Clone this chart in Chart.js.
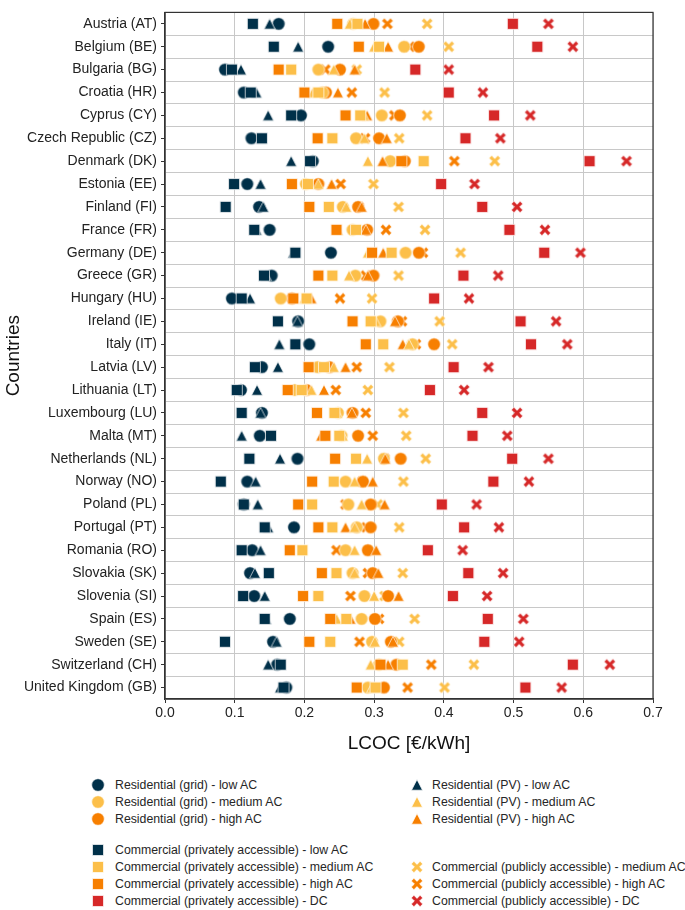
<!DOCTYPE html>
<html>
<head>
<meta charset="utf-8">
<script src="https://cdn.jsdelivr.net/npm/chart.js@4.4.1/dist/chart.umd.min.js"></script>
<style>
  body { margin: 0; background: #fff; font-family: "Liberation Sans", Arial, sans-serif; }
  #wrap { position: relative; width: 685px; height: 910px; overflow: hidden; }
  #chart { position: absolute; left: 0; top: 0; }
  .mk { position: absolute; width: 18px; height: 18px; }
  .lbl { position: absolute; font-size: 12.3px; line-height: 14px; color: #262626; white-space: nowrap; }
</style>
</head>
<body>
<div id="wrap">
  <canvas id="chart" width="685" height="770" style="width:685px;height:770px"></canvas>
</div>
<script>
const countries = [
  "Austria (AT)", "Belgium (BE)", "Bulgaria (BG)", "Croatia (HR)", "Cyprus (CY)",
  "Czech Republic (CZ)", "Denmark (DK)", "Estonia (EE)", "Finland (FI)", "France (FR)",
  "Germany (DE)", "Greece (GR)", "Hungary (HU)", "Ireland (IE)", "Italy (IT)",
  "Latvia (LV)", "Lithuania (LT)", "Luxembourg (LU)", "Malta (MT)", "Netherlands (NL)",
  "Norway (NO)", "Poland (PL)", "Portugal (PT)", "Romania (RO)", "Slovakia (SK)",
  "Slovenia (SI)", "Spain (ES)", "Sweden (SE)", "Switzerland (CH)", "United Kingdom (GB)"
];

// LCOC in €/kWh, one value per country (same order as above)
const resGridLow  = [.163,.234,.086,.113,.195,.124,.212,.118,.135,.150,.238,.153,.096,.191,.207,.139,.109,.139,.136,.190,.118,.113,.185,.125,.122,.128,.179,.155,.161,.174];
const resGridMed  = [.270,.343,.220,.226,.311,.274,.323,.202,.255,.269,.345,.273,.166,.309,.355,.219,.186,.248,.253,.314,.259,.263,.275,.259,.269,.286,.282,.297,.307,.291];
const resGridHigh = [.299,.364,.251,.231,.337,.307,.344,.220,.277,.290,.364,.299,.182,.334,.386,.236,.203,.269,.277,.338,.284,.295,.295,.291,.298,.320,.301,.324,.332,.314];
const resPVLow    = [.150,.191,.109,.131,.148,.138,.181,.137,.141,.131,.184,.145,.122,.190,.164,.162,.132,.137,.110,.165,.130,.133,.148,.137,.129,.143,.145,.160,.148,.165];
const resPVMed    = [.265,.300,.242,.212,.285,.286,.291,.220,.260,.248,.291,.264,.200,.302,.350,.242,.210,.247,.255,.290,.272,.282,.272,.272,.272,.300,.246,.301,.295,.297];
const resPVHigh   = [.287,.320,.272,.248,.290,.318,.312,.239,.282,.288,.313,.291,.210,.330,.341,.259,.228,.268,.224,.316,.298,.315,.259,.303,.306,.335,.266,.327,.320,.300];
const comPrivLow  = [.126,.156,.096,.123,.181,.139,.208,.099,.087,.128,.187,.142,.110,.162,.187,.129,.103,.110,.152,.121,.080,.113,.143,.110,.149,.112,.143,.086,.166,.170];
const comPrivMed  = [.276,.307,.181,.220,.280,.240,.371,.205,.235,.274,.325,.240,.203,.295,.313,.228,.196,.243,.250,.274,.242,.211,.240,.197,.246,.220,.260,.237,.341,.302];
const comPrivHigh = [.247,.278,.163,.200,.259,.219,.339,.182,.207,.246,.297,.220,.184,.269,.288,.206,.176,.218,.230,.244,.211,.191,.220,.179,.225,.198,.237,.207,.309,.275];
const comPrivDC   = [.499,.534,.359,.407,.472,.431,.609,.396,.455,.494,.544,.428,.386,.510,.525,.414,.380,.455,.441,.498,.471,.397,.429,.377,.435,.413,.463,.458,.585,.517];
const comPubMed   = [.376,.407,.275,.315,.376,.336,.473,.299,.335,.373,.424,.335,.297,.394,.412,.322,.291,.342,.346,.374,.342,.305,.336,.291,.341,.315,.358,.336,.443,.401];
const comPubHigh  = [.319,.351,.230,.268,.329,.287,.415,.252,.278,.317,.370,.288,.251,.340,.360,.275,.245,.288,.298,.315,.283,.259,.289,.246,.291,.266,.307,.279,.382,.348];
const comPubDC    = [.550,.585,.407,.456,.524,.481,.662,.444,.505,.545,.596,.478,.436,.561,.577,.464,.429,.505,.491,.550,.522,.447,.479,.427,.485,.462,.514,.508,.638,.569];

const NAVY = "#003049", YELLOW = "#fcbf49", ORANGE = "#f77f00", RED = "#d62828";

// draw order: squares, triangles, circles, crosses
const series = [
  ["Commercial (privately accessible) - low AC", comPrivLow, "square", NAVY],
  ["Commercial (privately accessible) - medium AC", comPrivMed, "square", YELLOW],
  ["Commercial (privately accessible) - high AC", comPrivHigh, "square", ORANGE],
  ["Commercial (privately accessible) - DC", comPrivDC, "square", RED],
  ["Residential (PV) - low AC", resPVLow, "triangle", NAVY],
  ["Residential (PV) - medium AC", resPVMed, "triangle", YELLOW],
  ["Residential (PV) - high AC", resPVHigh, "triangle", ORANGE],
  ["Residential (grid) - low AC", resGridLow, "circle", NAVY],
  ["Residential (grid) - medium AC", resGridMed, "circle", YELLOW],
  ["Residential (grid) - high AC", resGridHigh, "circle", ORANGE],
  ["Commercial (publicly accessible) - medium AC", comPubMed, "cross", YELLOW],
  ["Commercial (publicly accessible) - high AC", comPubHigh, "cross", ORANGE],
  ["Commercial (publicly accessible) - DC", comPubDC, "cross", RED]
];

function marker(shape, color) {
  const c = document.createElement("canvas");
  c.width = 18; c.height = 18;
  const g = c.getContext("2d");
  g.fillStyle = color;
  g.strokeStyle = "rgba(255,255,255,0.85)";
  g.lineWidth = 0.8;
  g.beginPath();
  if (shape === "circle") {
    g.arc(9, 9, 6.3, 0, Math.PI * 2);
  } else if (shape === "square") {
    g.rect(3.5, 3.5, 11, 11);
  } else if (shape === "triangle") {
    g.moveTo(9, 3.6); g.lineTo(14.5, 14.2); g.lineTo(3.5, 14.2); g.closePath();
  } else {
    const a = 6.2, w = 1.85, r = Math.SQRT1_2;
    const pts = [[-w,-a],[w,-a],[w,-w],[a,-w],[a,w],[w,w],[w,a],[-w,a],[-w,w],[-a,w],[-a,-w],[-w,-w]];
    pts.forEach(([px, py], i) => {
      const x = 9 + (px - py) * r, y = 9 + (px + py) * r;
      i ? g.lineTo(x, y) : g.moveTo(x, y);
    });
    g.closePath();
  }
  g.fill();
  g.stroke();
  return c;
}

const datasets = series.map(([label, values, shape, color]) => ({
  label,
  data: values.map((v, i) => ({ x: v, y: countries[i] })),
  pointStyle: marker(shape, color),
  pointRadius: 6,
  backgroundColor: color,
  borderColor: color
}));

const frame = {
  id: "frame",
  afterDatasetsDraw(chart) {
    const { ctx, chartArea: a } = chart;
    ctx.save();
    ctx.strokeStyle = "#333";
    ctx.lineWidth = 1.2;
    ctx.strokeRect(a.left, a.top, a.right - a.left, a.bottom - a.top);
    ctx.restore();
  }
};

const GRID = "#c8c8c8";

new Chart(document.getElementById("chart"), {
  type: "scatter",
  data: { datasets },
  options: {
    responsive: false,
    animation: false,
    events: [],
    layout: { padding: { left: 0, right: 32, top: 1, bottom: 0 } },
    plugins: { legend: { display: false }, tooltip: { enabled: false } },
    scales: {
      x: {
        type: "linear", min: 0, max: 0.7,
        ticks: { stepSize: 0.1, callback: (v) => v.toFixed(1), font: { family: "Liberation Sans", size: 14 }, color: "#222", padding: 2 },
        grid: { color: GRID, tickLength: 4, tickColor: "#333" },
        border: { color: "#333", width: 1.2 },
        title: { display: true, text: "LCOC [€/kWh]", font: { family: "Liberation Sans", size: 19 }, color: "#111", padding: { top: 0, bottom: 15 } },
        afterFit: (s) => { s.height = 71; }
      },
      y: {
        type: "category", labels: countries, offset: true,
        ticks: { font: { family: "Liberation Sans", size: 14 }, color: "#222", padding: 4, autoSkip: false },
        grid: { offset: false, drawOnChartArea: false, tickLength: 4, tickColor: "#333" },
        border: { color: "#333", width: 1.2 },
        title: { display: true, text: "Countries", font: { family: "Liberation Sans", size: 19 }, color: "#111", padding: { top: 2, bottom: 0 } },
        afterFit: (s) => { s.width = 165; }
      },
      yg: {
        type: "category", labels: countries, position: "right", offset: true,
        ticks: { display: false },
        grid: { offset: true, drawTicks: false, color: GRID },
        border: { display: false },
        afterFit: (s) => { s.width = 0; }
      }
    }
  },
  plugins: [frame]
});

// legend laid out like the original: two groups, two columns
const legendItems = [
  ["Residential (grid) - low AC", "circle", NAVY, 0, 785],
  ["Residential (grid) - medium AC", "circle", YELLOW, 0, 802],
  ["Residential (grid) - high AC", "circle", ORANGE, 0, 819],
  ["Commercial (privately accessible) - low AC", "square", NAVY, 0, 850],
  ["Commercial (privately accessible) - medium AC", "square", YELLOW, 0, 867],
  ["Commercial (privately accessible) - high AC", "square", ORANGE, 0, 884],
  ["Commercial (privately accessible) - DC", "square", RED, 0, 901],
  ["Residential (PV) - low AC", "triangle", NAVY, 1, 785],
  ["Residential (PV) - medium AC", "triangle", YELLOW, 1, 802],
  ["Residential (PV) - high AC", "triangle", ORANGE, 1, 819],
  ["Commercial (publicly accessible) - medium AC", "cross", YELLOW, 1, 867],
  ["Commercial (publicly accessible) - high AC", "cross", ORANGE, 1, 884],
  ["Commercial (publicly accessible) - DC", "cross", RED, 1, 901]
];
const cols = [{ mk: 98, txt: 115 }, { mk: 417, txt: 432 }];
const wrap = document.getElementById("wrap");
legendItems.forEach(([text, shape, color, col, cy]) => {
  const img = document.createElement("img");
  img.className = "mk";
  img.src = marker(shape, color).toDataURL();
  img.style.left = (cols[col].mk - 9) + "px";
  img.style.top = (cy - 9) + "px";
  const t = document.createElement("div");
  t.className = "lbl";
  t.textContent = text;
  t.style.left = cols[col].txt + "px";
  t.style.top = (cy - 7) + "px";
  wrap.append(img, t);
});
</script>
</body>
</html>
